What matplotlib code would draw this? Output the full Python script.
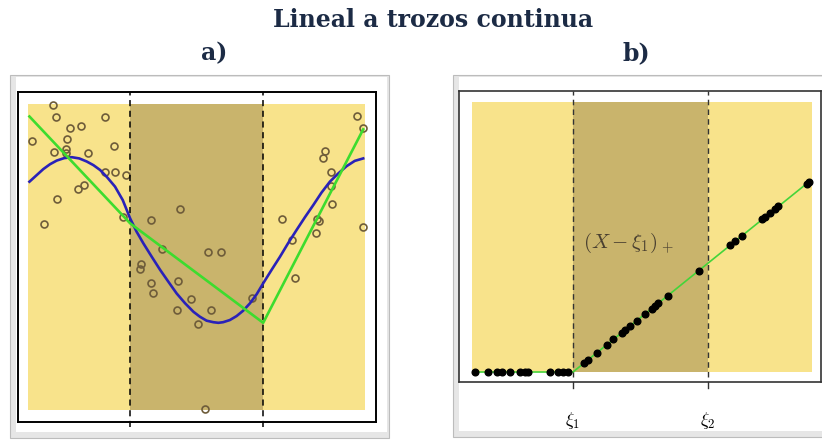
import matplotlib
matplotlib.use('Agg')
import matplotlib.pyplot as plt
from matplotlib.patches import Rectangle

plt.rcParams['mathtext.fontset'] = 'cm'

W, H = 822, 441

# knots (fraction of shaded width)
knots_a = [0.303, 0.697]
knots_b = [0.297, 0.694]

# panel a) noisy observations
obs_x = [0.075, 0.083, 0.123, 0.157, 0.229, 0.013, 0.115, 0.077, 0.112, 0.113,
         0.177, 0.254, 0.229, 0.257, 0.290, 0.147, 0.167, 0.086, 0.048, 0.283,
         0.365, 0.451, 0.399, 0.336, 0.332, 0.364, 0.370, 0.446, 0.483, 0.441,
         0.542, 0.504, 0.534, 0.574, 0.666, 0.526, 0.754, 0.783, 0.793, 0.859,
         0.865, 0.855, 0.901, 0.899, 0.899, 0.881, 0.876, 0.978, 0.993, 0.993]
obs_y = [0.997, 0.957, 0.923, 0.927, 0.957, 0.880, 0.886, 0.842, 0.852, 0.839,
         0.841, 0.863, 0.778, 0.778, 0.769, 0.723, 0.734, 0.691, 0.608, 0.632,
         0.620, 0.656, 0.527, 0.477, 0.462, 0.416, 0.381, 0.422, 0.363, 0.328,
         0.328, 0.281, 0.515, 0.515, 0.365, 0.002, 0.625, 0.556, 0.431, 0.625,
         0.619, 0.578, 0.672, 0.732, 0.777, 0.847, 0.822, 0.962, 0.922, 0.597]

# panel a) true function (blue)
true_x = [0.004, 0.026, 0.045, 0.065, 0.085, 0.107, 0.130, 0.152, 0.174, 0.194,
          0.214, 0.235, 0.258, 0.281, 0.303, 0.322, 0.342, 0.367, 0.392, 0.416,
          0.441, 0.466, 0.491, 0.510, 0.530, 0.550, 0.565, 0.579, 0.599, 0.619,
          0.639, 0.659, 0.679, 0.698, 0.723, 0.748, 0.772, 0.797, 0.822, 0.847,
          0.871, 0.896, 0.921, 0.946, 0.970, 0.995]
true_y = [0.746, 0.768, 0.787, 0.803, 0.815, 0.823, 0.826, 0.822, 0.812, 0.800,
          0.784, 0.760, 0.730, 0.686, 0.626, 0.583, 0.545, 0.501, 0.458, 0.420,
          0.381, 0.349, 0.321, 0.305, 0.292, 0.287, 0.285, 0.287, 0.294, 0.307,
          0.325, 0.349, 0.379, 0.414, 0.458, 0.501, 0.545, 0.588, 0.630, 0.670,
          0.710, 0.746, 0.773, 0.797, 0.814, 0.822]

# panel a) continuous piecewise-linear fit (green)
fit_x = [0.004, 0.303, 0.698, 0.995]
fit_y = [0.959, 0.610, 0.285, 0.917]

# panel b) basis function (X - xi1)+
basis_x = [0.009, 0.048, 0.075, 0.088, 0.112, 0.141, 0.156, 0.166, 0.229, 0.254,
           0.267, 0.283, 0.329, 0.342, 0.367, 0.396, 0.416, 0.440, 0.450, 0.465,
           0.484, 0.509, 0.528, 0.538, 0.548, 0.576, 0.666, 0.759, 0.774, 0.793,
           0.854, 0.862, 0.876, 0.891, 0.901, 0.984, 0.990]
basis_y = [0, 0, 0, 0, 0, 0, 0, 0, 0, 0,
           0, 0, 0.033, 0.046, 0.071, 0.101, 0.121, 0.145, 0.155, 0.171,
           0.190, 0.215, 0.235, 0.245, 0.255, 0.283, 0.375, 0.469, 0.485, 0.504,
           0.566, 0.574, 0.588, 0.604, 0.614, 0.698, 0.704]
bline_x = [0.009, 0.297, 0.990]
bline_y = [0.0, 0.0, 0.704]

tick_labels = [r'$\xi_1$', r'$\xi_2$']

YELLOW = '#f8e38b'
DARK = '#c9b46c'
NAVY = '#1c2b45'

fig = plt.figure(figsize=(W / 100, H / 100), dpi=100)


def px_axes(x0, y0, x1, y1):
    return fig.add_axes([x0 / W, 1 - y1 / H, (x1 - x0) / W, (y1 - y0) / H])


# picture frames
bg = fig.add_axes([0, 0, 1, 1])
bg.set_xlim(0, W)
bg.set_ylim(H, 0)
bg.axis('off')
for (x0, y0, x1, y1) in [(10, 75, 389, 438), (453, 75, 830, 437)]:
    bg.add_patch(Rectangle((x0, y0), x1 - x0, y1 - y0, facecolor='#e6e6e6',
                           edgecolor='#bcbcbc', lw=0.8))
    bg.add_patch(Rectangle((x0 + 6, y0 + 2), x1 - x0 - 8, y1 - y0 - 8,
                           facecolor='white', edgecolor='none'))

title_kw = dict(ha='center', va='center', fontsize=17, fontweight='bold',
                family='DejaVu Serif', color=NAVY)
fig.text(433 / W, 1 - 20 / H, 'Lineal a trozos continua', **title_kw)
fig.text(214 / W, 1 - 53 / H, 'a)', **title_kw)
fig.text(636 / W, 1 - 53 / H, 'b)', **title_kw)


def shade(ax, knots):
    ax.add_patch(Rectangle((0, 0), knots[0], 1, facecolor=YELLOW, edgecolor='none', zorder=0))
    ax.add_patch(Rectangle((knots[0], 0), knots[1] - knots[0], 1, facecolor=DARK,
                           edgecolor='none', zorder=0))
    ax.add_patch(Rectangle((knots[1], 0), 1 - knots[1], 1, facecolor=YELLOW,
                           edgecolor='none', zorder=0))


# ---- panel a)
ax1 = px_axes(18, 92, 376, 422)
ax1.set_xlim(-0.030, 1.033)
ax1.set_ylim(-0.039, 1.039)
shade(ax1, knots_a)
for k in knots_a:
    ax1.plot([k, k], [-0.055, 1.039], color='black', lw=1.1, ls=(0, (4, 3)),
             clip_on=False, zorder=3)
ax1.plot(obs_x, obs_y, 'o', ms=5, mfc='none', mec='#6e5c3a', mew=1.2, zorder=2)
ax1.plot(true_x, true_y, color='#2a22b8', lw=1.9, zorder=4)
ax1.plot(fit_x, fit_y, color='#3ddc2e', lw=1.9, zorder=5)
ax1.set_xticks([])
ax1.set_yticks([])
for s in ax1.spines.values():
    s.set_linewidth(1.4)

# ---- panel b)
ax2 = px_axes(459, 91, 821, 382)
ax2.set_xlim(-0.038, 1.026)
ax2.set_ylim(-0.037, 1.041)
shade(ax2, knots_b)
for k in knots_b:
    ax2.plot([k, k], [-0.02, 1.041], color='#333333', lw=1.0, ls=(0, (4, 3)),
             clip_on=False, zorder=3)
    ax2.plot([k, k], [-0.037, -0.06], color='#333333', lw=1.0, clip_on=False)
ax2.plot(bline_x, bline_y, color='#44d43a', lw=1.2, zorder=4)
ax2.plot(basis_x, basis_y, 'o', ms=4.8, color='black', zorder=5)
ax2.text(knots_b[0] + 0.03, 0.48, r'$(X-\xi_1)_+$', fontsize=15, color='#4a4030',
         ha='left', va='center')
ax2.set_xticks(knots_b)
ax2.set_xticklabels(tick_labels, fontsize=13)
ax2.tick_params(axis='x', length=0, pad=20)
ax2.set_yticks([])
for s in ax2.spines.values():
    s.set_linewidth(1.2)
    s.set_color('#333333')

fig.savefig('out.png', dpi=100)
